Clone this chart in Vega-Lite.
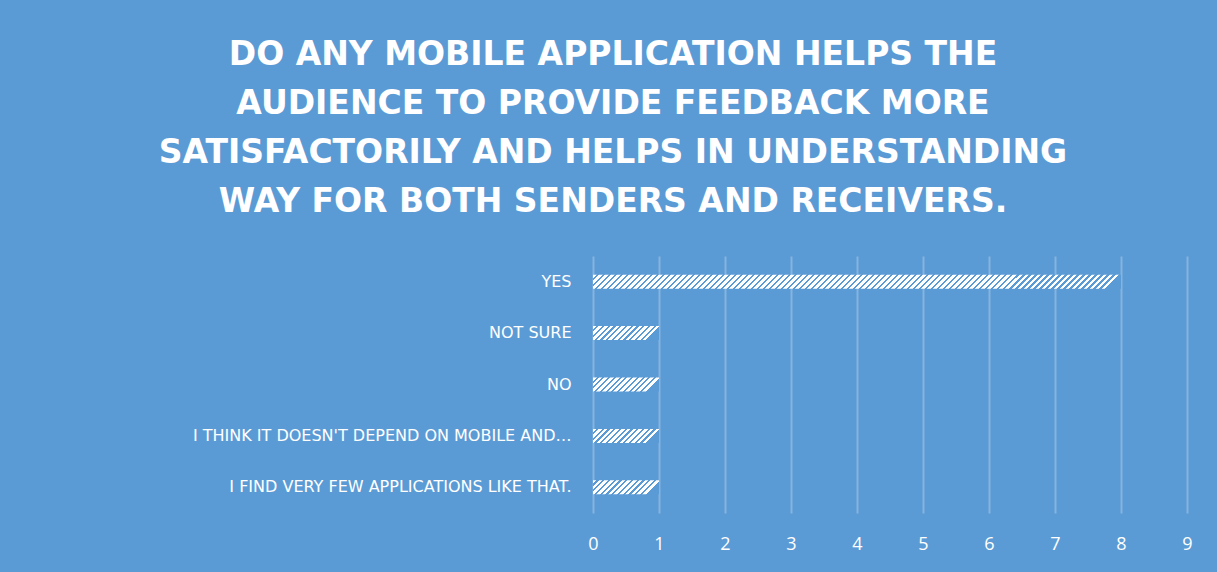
{
  "$schema": "https://vega.github.io/schema/vega-lite/v6.json",
  "autosize": {"type": "none"},
  "width": 594,
  "height": 257,
  "padding": {"left": 593, "top": 256, "right": 30, "bottom": 59},
  "background": "#5b9bd5",
  "config": {"view": {"stroke": null}, "font": "Open Sans"},
  "title": {
    "text": ["DO ANY MOBILE APPLICATION HELPS THE", "AUDIENCE TO PROVIDE FEEDBACK MORE", "SATISFACTORILY AND HELPS IN UNDERSTANDING", "WAY FOR BOTH SENDERS AND RECEIVERS."],
    "font": "DejaVu Sans",
    "fontSize": 33,
    "fontWeight": "bold",
    "color": "#ffffff",
    "lineHeight": 49,
    "anchor": "middle",
    "dx": -277,
    "offset": 37
  },
  "data": {
    "values": [
      {"answer": "YES", "count": 8},
      {"answer": "NOT SURE", "count": 1},
      {"answer": "NO", "count": 1},
      {"answer": "I THINK IT DOESN'T DEPEND ON MOBILE AND…", "count": 1},
      {"answer": "I FIND VERY FEW APPLICATIONS LIKE THAT.", "count": 1}
    ]
  },
  "encoding": {
    "y": {
      "field": "answer",
      "type": "nominal",
      "sort": null,
      "scale": {"paddingInner": 0.72, "paddingOuter": 0.36},
      "axis": {
        "title": null,
        "domain": false,
        "ticks": false,
        "labelColor": "#ffffff",
        "labelFont": "DejaVu Sans",
        "labelFontSize": 16,
        "labelPadding": 22,
        "labelLimit": 600
      }
    },
    "x": {
      "field": "count",
      "type": "quantitative",
      "scale": {"domain": [0, 9], "nice": false},
      "axis": {
        "title": null,
        "values": [0, 1, 2, 3, 4, 5, 6, 7, 8, 9],
        "domain": false,
        "ticks": false,
        "grid": true,
        "gridColor": "#ffffff",
        "gridOpacity": 0.25,
        "gridWidth": 2,
        "labelFlush": false,
        "labelColor": "#ffffff",
        "labelFont": "Open Sans",
        "labelFontSize": 18,
        "labelPadding": 22
      }
    }
  },
  "layer": [
    {
      "transform": [{"filter": "datum.count > 4"}],
      "mark": {
        "type": "bar",
        "size": 14,
        "color": {
          "gradient": "linear", "x1": 0, "y1": 0, "x2": 1, "y2": 0.02652,
          "stops": [
{"offset":0,"color":"#fff"},{"offset":0.00705,"color":"#fff"},{"offset":0.00705,"color":"#5b9bd5"},{"offset":0.01136,"color":"#5b9bd5"},
{"offset":0.01136,"color":"#fff"},{"offset":0.01841,"color":"#fff"},{"offset":0.01841,"color":"#5b9bd5"},{"offset":0.02273,"color":"#5b9bd5"},
{"offset":0.02273,"color":"#fff"},{"offset":0.02977,"color":"#fff"},{"offset":0.02977,"color":"#5b9bd5"},{"offset":0.03409,"color":"#5b9bd5"},
{"offset":0.03409,"color":"#fff"},{"offset":0.04114,"color":"#fff"},{"offset":0.04114,"color":"#5b9bd5"},{"offset":0.04545,"color":"#5b9bd5"},
{"offset":0.04545,"color":"#fff"},{"offset":0.05250,"color":"#fff"},{"offset":0.05250,"color":"#5b9bd5"},{"offset":0.05682,"color":"#5b9bd5"},
{"offset":0.05682,"color":"#fff"},{"offset":0.06386,"color":"#fff"},{"offset":0.06386,"color":"#5b9bd5"},{"offset":0.06818,"color":"#5b9bd5"},
{"offset":0.06818,"color":"#fff"},{"offset":0.07523,"color":"#fff"},{"offset":0.07523,"color":"#5b9bd5"},{"offset":0.07955,"color":"#5b9bd5"},
{"offset":0.07955,"color":"#fff"},{"offset":0.08659,"color":"#fff"},{"offset":0.08659,"color":"#5b9bd5"},{"offset":0.09091,"color":"#5b9bd5"},
{"offset":0.09091,"color":"#fff"},{"offset":0.09795,"color":"#fff"},{"offset":0.09795,"color":"#5b9bd5"},{"offset":0.10227,"color":"#5b9bd5"},
{"offset":0.10227,"color":"#fff"},{"offset":0.10932,"color":"#fff"},{"offset":0.10932,"color":"#5b9bd5"},{"offset":0.11364,"color":"#5b9bd5"},
{"offset":0.11364,"color":"#fff"},{"offset":0.12068,"color":"#fff"},{"offset":0.12068,"color":"#5b9bd5"},{"offset":0.12500,"color":"#5b9bd5"},
{"offset":0.12500,"color":"#fff"},{"offset":0.13205,"color":"#fff"},{"offset":0.13205,"color":"#5b9bd5"},{"offset":0.13636,"color":"#5b9bd5"},
{"offset":0.13636,"color":"#fff"},{"offset":0.14341,"color":"#fff"},{"offset":0.14341,"color":"#5b9bd5"},{"offset":0.14773,"color":"#5b9bd5"},
{"offset":0.14773,"color":"#fff"},{"offset":0.15477,"color":"#fff"},{"offset":0.15477,"color":"#5b9bd5"},{"offset":0.15909,"color":"#5b9bd5"},
{"offset":0.15909,"color":"#fff"},{"offset":0.16614,"color":"#fff"},{"offset":0.16614,"color":"#5b9bd5"},{"offset":0.17045,"color":"#5b9bd5"},
{"offset":0.17045,"color":"#fff"},{"offset":0.17750,"color":"#fff"},{"offset":0.17750,"color":"#5b9bd5"},{"offset":0.18182,"color":"#5b9bd5"},
{"offset":0.18182,"color":"#fff"},{"offset":0.18886,"color":"#fff"},{"offset":0.18886,"color":"#5b9bd5"},{"offset":0.19318,"color":"#5b9bd5"},
{"offset":0.19318,"color":"#fff"},{"offset":0.20023,"color":"#fff"},{"offset":0.20023,"color":"#5b9bd5"},{"offset":0.20455,"color":"#5b9bd5"},
{"offset":0.20455,"color":"#fff"},{"offset":0.21159,"color":"#fff"},{"offset":0.21159,"color":"#5b9bd5"},{"offset":0.21591,"color":"#5b9bd5"},
{"offset":0.21591,"color":"#fff"},{"offset":0.22295,"color":"#fff"},{"offset":0.22295,"color":"#5b9bd5"},{"offset":0.22727,"color":"#5b9bd5"},
{"offset":0.22727,"color":"#fff"},{"offset":0.23432,"color":"#fff"},{"offset":0.23432,"color":"#5b9bd5"},{"offset":0.23864,"color":"#5b9bd5"},
{"offset":0.23864,"color":"#fff"},{"offset":0.24568,"color":"#fff"},{"offset":0.24568,"color":"#5b9bd5"},{"offset":0.25000,"color":"#5b9bd5"},
{"offset":0.25000,"color":"#fff"},{"offset":0.25705,"color":"#fff"},{"offset":0.25705,"color":"#5b9bd5"},{"offset":0.26136,"color":"#5b9bd5"},
{"offset":0.26136,"color":"#fff"},{"offset":0.26841,"color":"#fff"},{"offset":0.26841,"color":"#5b9bd5"},{"offset":0.27273,"color":"#5b9bd5"},
{"offset":0.27273,"color":"#fff"},{"offset":0.27977,"color":"#fff"},{"offset":0.27977,"color":"#5b9bd5"},{"offset":0.28409,"color":"#5b9bd5"},
{"offset":0.28409,"color":"#fff"},{"offset":0.29114,"color":"#fff"},{"offset":0.29114,"color":"#5b9bd5"},{"offset":0.29545,"color":"#5b9bd5"},
{"offset":0.29545,"color":"#fff"},{"offset":0.30250,"color":"#fff"},{"offset":0.30250,"color":"#5b9bd5"},{"offset":0.30682,"color":"#5b9bd5"},
{"offset":0.30682,"color":"#fff"},{"offset":0.31386,"color":"#fff"},{"offset":0.31386,"color":"#5b9bd5"},{"offset":0.31818,"color":"#5b9bd5"},
{"offset":0.31818,"color":"#fff"},{"offset":0.32523,"color":"#fff"},{"offset":0.32523,"color":"#5b9bd5"},{"offset":0.32955,"color":"#5b9bd5"},
{"offset":0.32955,"color":"#fff"},{"offset":0.33659,"color":"#fff"},{"offset":0.33659,"color":"#5b9bd5"},{"offset":0.34091,"color":"#5b9bd5"},
{"offset":0.34091,"color":"#fff"},{"offset":0.34795,"color":"#fff"},{"offset":0.34795,"color":"#5b9bd5"},{"offset":0.35227,"color":"#5b9bd5"},
{"offset":0.35227,"color":"#fff"},{"offset":0.35932,"color":"#fff"},{"offset":0.35932,"color":"#5b9bd5"},{"offset":0.36364,"color":"#5b9bd5"},
{"offset":0.36364,"color":"#fff"},{"offset":0.37068,"color":"#fff"},{"offset":0.37068,"color":"#5b9bd5"},{"offset":0.37500,"color":"#5b9bd5"},
{"offset":0.37500,"color":"#fff"},{"offset":0.38205,"color":"#fff"},{"offset":0.38205,"color":"#5b9bd5"},{"offset":0.38636,"color":"#5b9bd5"},
{"offset":0.38636,"color":"#fff"},{"offset":0.39341,"color":"#fff"},{"offset":0.39341,"color":"#5b9bd5"},{"offset":0.39773,"color":"#5b9bd5"},
{"offset":0.39773,"color":"#fff"},{"offset":0.40477,"color":"#fff"},{"offset":0.40477,"color":"#5b9bd5"},{"offset":0.40909,"color":"#5b9bd5"},
{"offset":0.40909,"color":"#fff"},{"offset":0.41614,"color":"#fff"},{"offset":0.41614,"color":"#5b9bd5"},{"offset":0.42045,"color":"#5b9bd5"},
{"offset":0.42045,"color":"#fff"},{"offset":0.42750,"color":"#fff"},{"offset":0.42750,"color":"#5b9bd5"},{"offset":0.43182,"color":"#5b9bd5"},
{"offset":0.43182,"color":"#fff"},{"offset":0.43886,"color":"#fff"},{"offset":0.43886,"color":"#5b9bd5"},{"offset":0.44318,"color":"#5b9bd5"},
{"offset":0.44318,"color":"#fff"},{"offset":0.45023,"color":"#fff"},{"offset":0.45023,"color":"#5b9bd5"},{"offset":0.45455,"color":"#5b9bd5"},
{"offset":0.45455,"color":"#fff"},{"offset":0.46159,"color":"#fff"},{"offset":0.46159,"color":"#5b9bd5"},{"offset":0.46591,"color":"#5b9bd5"},
{"offset":0.46591,"color":"#fff"},{"offset":0.47295,"color":"#fff"},{"offset":0.47295,"color":"#5b9bd5"},{"offset":0.47727,"color":"#5b9bd5"},
{"offset":0.47727,"color":"#fff"},{"offset":0.48432,"color":"#fff"},{"offset":0.48432,"color":"#5b9bd5"},{"offset":0.48864,"color":"#5b9bd5"},
{"offset":0.48864,"color":"#fff"},{"offset":0.49568,"color":"#fff"},{"offset":0.49568,"color":"#5b9bd5"},{"offset":0.50000,"color":"#5b9bd5"},
{"offset":0.50000,"color":"#fff"},{"offset":0.50705,"color":"#fff"},{"offset":0.50705,"color":"#5b9bd5"},{"offset":0.51136,"color":"#5b9bd5"},
{"offset":0.51136,"color":"#fff"},{"offset":0.51841,"color":"#fff"},{"offset":0.51841,"color":"#5b9bd5"},{"offset":0.52273,"color":"#5b9bd5"},
{"offset":0.52273,"color":"#fff"},{"offset":0.52977,"color":"#fff"},{"offset":0.52977,"color":"#5b9bd5"},{"offset":0.53409,"color":"#5b9bd5"},
{"offset":0.53409,"color":"#fff"},{"offset":0.54114,"color":"#fff"},{"offset":0.54114,"color":"#5b9bd5"},{"offset":0.54545,"color":"#5b9bd5"},
{"offset":0.54545,"color":"#fff"},{"offset":0.55250,"color":"#fff"},{"offset":0.55250,"color":"#5b9bd5"},{"offset":0.55682,"color":"#5b9bd5"},
{"offset":0.55682,"color":"#fff"},{"offset":0.56386,"color":"#fff"},{"offset":0.56386,"color":"#5b9bd5"},{"offset":0.56818,"color":"#5b9bd5"},
{"offset":0.56818,"color":"#fff"},{"offset":0.57523,"color":"#fff"},{"offset":0.57523,"color":"#5b9bd5"},{"offset":0.57955,"color":"#5b9bd5"},
{"offset":0.57955,"color":"#fff"},{"offset":0.58659,"color":"#fff"},{"offset":0.58659,"color":"#5b9bd5"},{"offset":0.59091,"color":"#5b9bd5"},
{"offset":0.59091,"color":"#fff"},{"offset":0.59795,"color":"#fff"},{"offset":0.59795,"color":"#5b9bd5"},{"offset":0.60227,"color":"#5b9bd5"},
{"offset":0.60227,"color":"#fff"},{"offset":0.60932,"color":"#fff"},{"offset":0.60932,"color":"#5b9bd5"},{"offset":0.61364,"color":"#5b9bd5"},
{"offset":0.61364,"color":"#fff"},{"offset":0.62068,"color":"#fff"},{"offset":0.62068,"color":"#5b9bd5"},{"offset":0.62500,"color":"#5b9bd5"},
{"offset":0.62500,"color":"#fff"},{"offset":0.63205,"color":"#fff"},{"offset":0.63205,"color":"#5b9bd5"},{"offset":0.63636,"color":"#5b9bd5"},
{"offset":0.63636,"color":"#fff"},{"offset":0.64341,"color":"#fff"},{"offset":0.64341,"color":"#5b9bd5"},{"offset":0.64773,"color":"#5b9bd5"},
{"offset":0.64773,"color":"#fff"},{"offset":0.65477,"color":"#fff"},{"offset":0.65477,"color":"#5b9bd5"},{"offset":0.65909,"color":"#5b9bd5"},
{"offset":0.65909,"color":"#fff"},{"offset":0.66614,"color":"#fff"},{"offset":0.66614,"color":"#5b9bd5"},{"offset":0.67045,"color":"#5b9bd5"},
{"offset":0.67045,"color":"#fff"},{"offset":0.67750,"color":"#fff"},{"offset":0.67750,"color":"#5b9bd5"},{"offset":0.68182,"color":"#5b9bd5"},
{"offset":0.68182,"color":"#fff"},{"offset":0.68886,"color":"#fff"},{"offset":0.68886,"color":"#5b9bd5"},{"offset":0.69318,"color":"#5b9bd5"},
{"offset":0.69318,"color":"#fff"},{"offset":0.70023,"color":"#fff"},{"offset":0.70023,"color":"#5b9bd5"},{"offset":0.70455,"color":"#5b9bd5"},
{"offset":0.70455,"color":"#fff"},{"offset":0.71159,"color":"#fff"},{"offset":0.71159,"color":"#5b9bd5"},{"offset":0.71591,"color":"#5b9bd5"},
{"offset":0.71591,"color":"#fff"},{"offset":0.72295,"color":"#fff"},{"offset":0.72295,"color":"#5b9bd5"},{"offset":0.72727,"color":"#5b9bd5"},
{"offset":0.72727,"color":"#fff"},{"offset":0.73432,"color":"#fff"},{"offset":0.73432,"color":"#5b9bd5"},{"offset":0.73864,"color":"#5b9bd5"},
{"offset":0.73864,"color":"#fff"},{"offset":0.74568,"color":"#fff"},{"offset":0.74568,"color":"#5b9bd5"},{"offset":0.75000,"color":"#5b9bd5"},
{"offset":0.75000,"color":"#fff"},{"offset":0.75705,"color":"#fff"},{"offset":0.75705,"color":"#5b9bd5"},{"offset":0.76136,"color":"#5b9bd5"},
{"offset":0.76136,"color":"#fff"},{"offset":0.76841,"color":"#fff"},{"offset":0.76841,"color":"#5b9bd5"},{"offset":0.77273,"color":"#5b9bd5"},
{"offset":0.77273,"color":"#fff"},{"offset":0.77977,"color":"#fff"},{"offset":0.77977,"color":"#5b9bd5"},{"offset":0.78409,"color":"#5b9bd5"},
{"offset":0.78409,"color":"#fff"},{"offset":0.79114,"color":"#fff"},{"offset":0.79114,"color":"#5b9bd5"},{"offset":0.79545,"color":"#5b9bd5"},
{"offset":0.79545,"color":"#fff"},{"offset":0.80250,"color":"#fff"},{"offset":0.80250,"color":"#5b9bd5"},{"offset":0.80682,"color":"#5b9bd5"},
{"offset":0.80682,"color":"#fff"},{"offset":0.81386,"color":"#fff"},{"offset":0.81386,"color":"#5b9bd5"},{"offset":0.81818,"color":"#5b9bd5"},
{"offset":0.81818,"color":"#fff"},{"offset":0.82523,"color":"#fff"},{"offset":0.82523,"color":"#5b9bd5"},{"offset":0.82955,"color":"#5b9bd5"},
{"offset":0.82955,"color":"#fff"},{"offset":0.83659,"color":"#fff"},{"offset":0.83659,"color":"#5b9bd5"},{"offset":0.84091,"color":"#5b9bd5"},
{"offset":0.84091,"color":"#fff"},{"offset":0.84795,"color":"#fff"},{"offset":0.84795,"color":"#5b9bd5"},{"offset":0.85227,"color":"#5b9bd5"},
{"offset":0.85227,"color":"#fff"},{"offset":0.85932,"color":"#fff"},{"offset":0.85932,"color":"#5b9bd5"},{"offset":0.86364,"color":"#5b9bd5"},
{"offset":0.86364,"color":"#fff"},{"offset":0.87068,"color":"#fff"},{"offset":0.87068,"color":"#5b9bd5"},{"offset":0.87500,"color":"#5b9bd5"},
{"offset":0.87500,"color":"#fff"},{"offset":0.88205,"color":"#fff"},{"offset":0.88205,"color":"#5b9bd5"},{"offset":0.88636,"color":"#5b9bd5"},
{"offset":0.88636,"color":"#fff"},{"offset":0.89341,"color":"#fff"},{"offset":0.89341,"color":"#5b9bd5"},{"offset":0.89773,"color":"#5b9bd5"},
{"offset":0.89773,"color":"#fff"},{"offset":0.90477,"color":"#fff"},{"offset":0.90477,"color":"#5b9bd5"},{"offset":0.90909,"color":"#5b9bd5"},
{"offset":0.90909,"color":"#fff"},{"offset":0.91614,"color":"#fff"},{"offset":0.91614,"color":"#5b9bd5"},{"offset":0.92045,"color":"#5b9bd5"},
{"offset":0.92045,"color":"#fff"},{"offset":0.92750,"color":"#fff"},{"offset":0.92750,"color":"#5b9bd5"},{"offset":0.93182,"color":"#5b9bd5"},
{"offset":0.93182,"color":"#fff"},{"offset":0.93886,"color":"#fff"},{"offset":0.93886,"color":"#5b9bd5"},{"offset":0.94318,"color":"#5b9bd5"},
{"offset":0.94318,"color":"#fff"},{"offset":0.95023,"color":"#fff"},{"offset":0.95023,"color":"#5b9bd5"},{"offset":0.95455,"color":"#5b9bd5"},
{"offset":0.95455,"color":"#fff"},{"offset":0.96159,"color":"#fff"},{"offset":0.96159,"color":"#5b9bd5"},{"offset":0.96591,"color":"#5b9bd5"},
{"offset":0.96591,"color":"#fff"},{"offset":0.97295,"color":"#fff"},{"offset":0.97295,"color":"#5b9bd5"},{"offset":0.97727,"color":"#5b9bd5"},
{"offset":0.97727,"color":"#fff"},{"offset":0.98432,"color":"#fff"},{"offset":0.98432,"color":"#5b9bd5"},{"offset":0.98864,"color":"#5b9bd5"},
{"offset":0.98864,"color":"#fff"},{"offset":0.99568,"color":"#fff"},{"offset":0.99568,"color":"#5b9bd5"},{"offset":1,"color":"#5b9bd5"}
          ]
        }
      }
    },
    {
      "transform": [{"filter": "datum.count <= 4"}],
      "mark": {
        "type": "bar",
        "size": 14,
        "color": {
          "gradient": "linear", "x1": 0, "y1": 0, "x2": 1, "y2": 0.2121,
          "stops": [
{"offset":0,"color":"#fff"},{"offset":0.05167,"color":"#fff"},{"offset":0.05167,"color":"#5b9bd5"},{"offset":0.08333,"color":"#5b9bd5"},
{"offset":0.08333,"color":"#fff"},{"offset":0.135,"color":"#fff"},{"offset":0.135,"color":"#5b9bd5"},{"offset":0.16667,"color":"#5b9bd5"},
{"offset":0.16667,"color":"#fff"},{"offset":0.21833,"color":"#fff"},{"offset":0.21833,"color":"#5b9bd5"},{"offset":0.25,"color":"#5b9bd5"},
{"offset":0.25,"color":"#fff"},{"offset":0.30167,"color":"#fff"},{"offset":0.30167,"color":"#5b9bd5"},{"offset":0.33333,"color":"#5b9bd5"},
{"offset":0.33333,"color":"#fff"},{"offset":0.385,"color":"#fff"},{"offset":0.385,"color":"#5b9bd5"},{"offset":0.41667,"color":"#5b9bd5"},
{"offset":0.41667,"color":"#fff"},{"offset":0.46833,"color":"#fff"},{"offset":0.46833,"color":"#5b9bd5"},{"offset":0.5,"color":"#5b9bd5"},
{"offset":0.5,"color":"#fff"},{"offset":0.55167,"color":"#fff"},{"offset":0.55167,"color":"#5b9bd5"},{"offset":0.58333,"color":"#5b9bd5"},
{"offset":0.58333,"color":"#fff"},{"offset":0.635,"color":"#fff"},{"offset":0.635,"color":"#5b9bd5"},{"offset":0.66667,"color":"#5b9bd5"},
{"offset":0.66667,"color":"#fff"},{"offset":0.71833,"color":"#fff"},{"offset":0.71833,"color":"#5b9bd5"},{"offset":0.75,"color":"#5b9bd5"},
{"offset":0.75,"color":"#fff"},{"offset":0.80167,"color":"#fff"},{"offset":0.80167,"color":"#5b9bd5"},{"offset":0.83333,"color":"#5b9bd5"},
{"offset":0.83333,"color":"#fff"},{"offset":0.885,"color":"#fff"},{"offset":0.885,"color":"#5b9bd5"},{"offset":0.91667,"color":"#5b9bd5"},
{"offset":0.91667,"color":"#fff"},{"offset":0.96833,"color":"#fff"},{"offset":0.96833,"color":"#5b9bd5"},{"offset":1,"color":"#5b9bd5"}
          ]
        }
      }
    }
  ]
}
